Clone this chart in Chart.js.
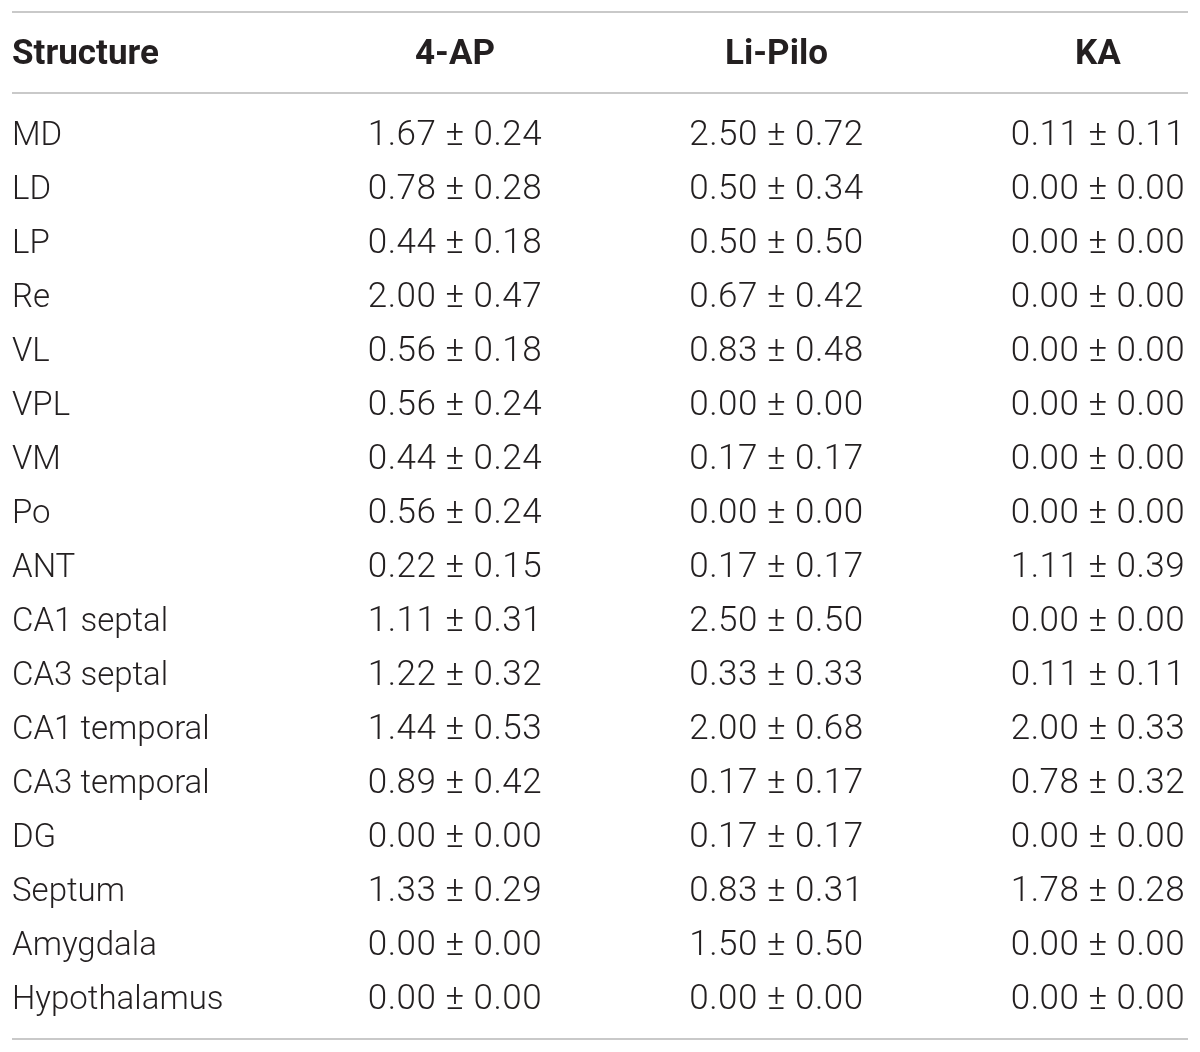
<!DOCTYPE html>
<html>
<head>
<meta charset="utf-8">
<script src="https://cdn.jsdelivr.net/npm/chart.js@4"></script>
<style>
  html, body { margin: 0; padding: 0; background: #fff; }
  canvas { display: block; }
</style>
</head>
<body>
<canvas id="tableChart" width="1200" height="1052"></canvas>
<script>
const ctx_table = document.querySelector('#tableChart').getContext('2d');

// column headers + row names
const headers = ['Structure', '4-AP', 'Li-Pilo', 'KA'];
const structures = ['MD', 'LD', 'LP', 'Re', 'VL', 'VPL', 'VM', 'Po', 'ANT', 'CA1 septal', 'CA3 septal',
    'CA1 temporal', 'CA3 temporal', 'DG', 'Septum', 'Amygdala', 'Hypothalamus'];

// mean ± sem per model
const ap_mean   = [1.67, 0.78, 0.44, 2.00, 0.56, 0.56, 0.44, 0.56, 0.22, 1.11, 1.22, 1.44, 0.89, 0.00, 1.33, 0.00, 0.00];
const ap_sem    = [0.24, 0.28, 0.18, 0.47, 0.18, 0.24, 0.24, 0.24, 0.15, 0.31, 0.32, 0.53, 0.42, 0.00, 0.29, 0.00, 0.00];
const pilo_mean = [2.50, 0.50, 0.50, 0.67, 0.83, 0.00, 0.17, 0.00, 0.17, 2.50, 0.33, 2.00, 0.17, 0.17, 0.83, 1.50, 0.00];
const pilo_sem  = [0.72, 0.34, 0.50, 0.42, 0.48, 0.00, 0.17, 0.00, 0.17, 0.50, 0.33, 0.68, 0.17, 0.17, 0.31, 0.50, 0.00];
const ka_mean   = [0.11, 0.00, 0.00, 0.00, 0.00, 0.00, 0.00, 0.00, 1.11, 0.00, 0.11, 2.00, 0.78, 0.00, 1.78, 0.00, 0.00];
const ka_sem    = [0.11, 0.00, 0.00, 0.00, 0.00, 0.00, 0.00, 0.00, 0.39, 0.00, 0.11, 0.33, 0.32, 0.00, 0.28, 0.00, 0.00];

// grid of the table in scale units
const X_MIN = -0.378, X_MAX = 3.28;     // column 0 sits on the left edge
const Y_MIN = -2.31, Y_MAX = 16.71;
const HEADER_ROW = -1.5;
const HEADER_RULE = -0.81;

const textColor = '#231f20';
const ruleColor = '#c9c9c9';
const FONT_FAMILY = 'Roboto, "Liberation Sans", sans-serif';

const fmt = (m, s) => m.toFixed(2) + ' \u00b1 ' + s.toFixed(2);

let datasets = [];

// header row
datasets.push({
    data: headers.map((h, i) => ({x: i === 0 ? X_MIN : i, y: HEADER_ROW})),
    cellText: headers,
    cellAlign: headers.map((h, i) => i === 0 ? 'left' : 'center'),
    cellFont: 'bold 35px ' + FONT_FAMILY,
    cellSpacing: '0px',
});

// structure names
datasets.push({
    data: structures.map((s, r) => ({x: X_MIN, y: r})),
    cellText: structures,
    cellAlign: structures.map(() => 'left'),
    cellFont: '300 33px ' + FONT_FAMILY,
    cellSpacing: '0px',
});

// value columns
const cols = [[ap_mean, ap_sem], [pilo_mean, pilo_sem], [ka_mean, ka_sem]];
cols.forEach((c, k) => {
    datasets.push({
        data: c[0].map((m, r) => ({x: k + 1, y: r})),
        cellText: c[0].map((m, r) => fmt(m, c[1][r])),
        cellAlign: c[0].map(() => 'center'),
        cellFont: '300 35px ' + FONT_FAMILY,
        cellSpacing: '0.5px',
    });
});

datasets.forEach(d => { d.pointRadius = 0; d.pointHoverRadius = 0; d.showLine = false; });

// horizontal rules (top, under header, bottom)
const rulesPlugin = {
    id: 'rules',
    beforeDatasetsDraw(chart) {
        const c = chart.ctx, a = chart.chartArea, y = chart.scales.y;
        c.save();
        c.strokeStyle = ruleColor;
        c.lineWidth = 2;
        [Y_MIN, HEADER_RULE, Y_MAX].forEach(v => {
            const py = Math.round(y.getPixelForValue(v));
            c.beginPath();
            c.moveTo(a.left, py);
            c.lineTo(a.right, py);
            c.stroke();
        });
        c.restore();
    }
};

// cell text at each point
const cellTextPlugin = {
    id: 'cellText',
    afterDatasetsDraw(chart) {
        const c = chart.ctx;
        c.save();
        c.fillStyle = textColor;
        c.textBaseline = 'middle';
        chart.data.datasets.forEach((ds, i) => {
            const meta = chart.getDatasetMeta(i);
            c.font = ds.cellFont;
            if ('letterSpacing' in c) c.letterSpacing = ds.cellSpacing;
            meta.data.forEach((el, j) => {
                c.textAlign = ds.cellAlign[j];
                c.fillText(ds.cellText[j], el.x, el.y);
            });
        });
        c.restore();
    }
};

const config_table = {
    type: 'scatter',
    data: {datasets: datasets},
    options: {
        responsive: false,
        animation: false,
        events: [],
        layout: {padding: {left: 12, right: 12, top: 12, bottom: 13}},
        plugins: {legend: {display: false}, tooltip: {enabled: false}},
        scales: {
            x: {type: 'linear', min: X_MIN, max: X_MAX, display: false},
            y: {type: 'linear', min: Y_MIN, max: Y_MAX, reverse: true, display: false},
        },
    },
    plugins: [rulesPlugin, cellTextPlugin],
};

new Chart(ctx_table, config_table);
</script>
</body>
</html>
